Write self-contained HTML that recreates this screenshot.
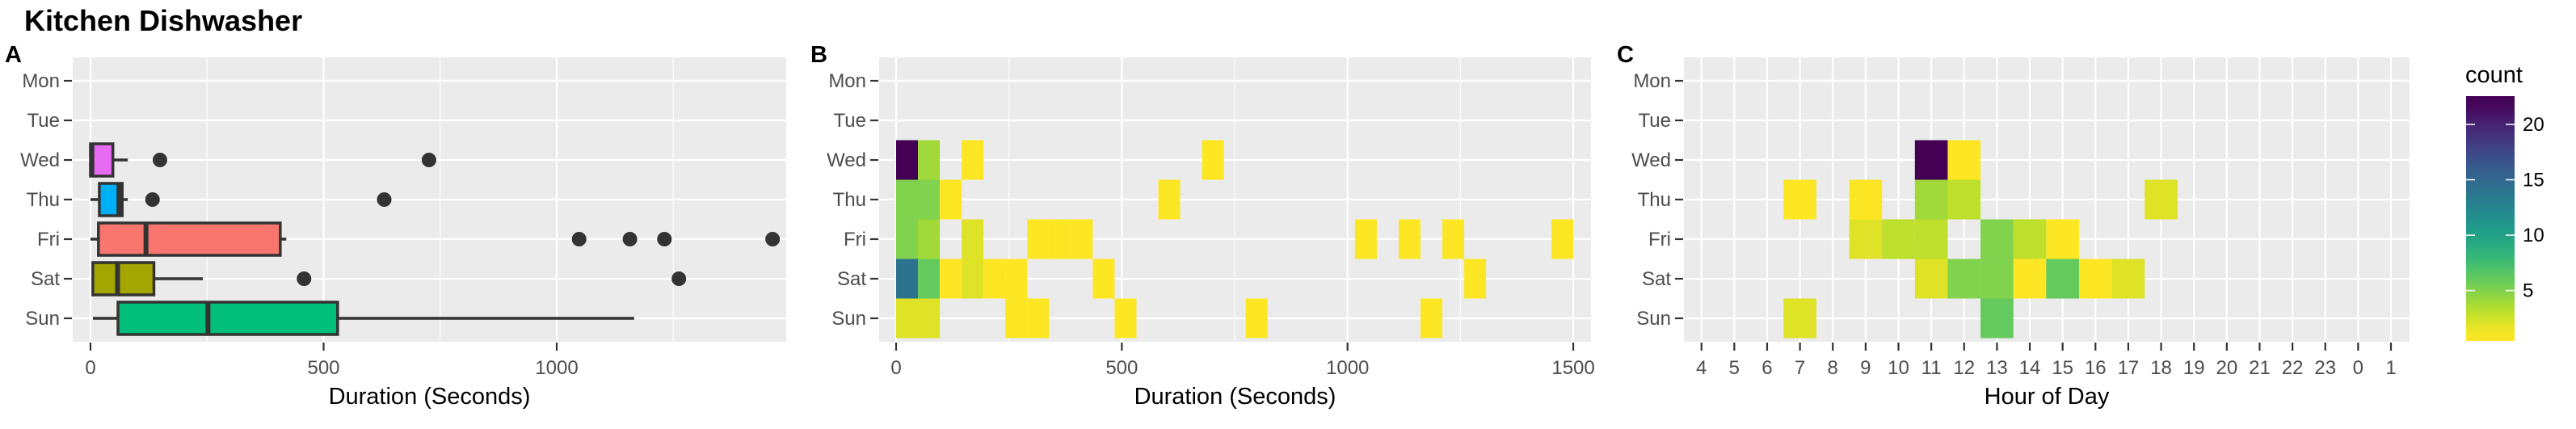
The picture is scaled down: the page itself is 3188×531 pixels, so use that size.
<!DOCTYPE html>
<html><head><meta charset="utf-8"><style>
html,body{margin:0;padding:0;background:#fff;}
svg{display:block;font-family:"Liberation Sans",sans-serif;}
</style></head><body>
<svg id="chart" width="3188" height="531" viewBox="0 0 3188 531" xmlns="http://www.w3.org/2000/svg">
<text x="30" y="38" font-size="36" font-weight="bold" fill="#000">Kitchen Dishwasher</text>
<g id="root"></g>
</svg>
<script>
// ---- data ----
const days = ["Mon","Tue","Wed","Thu","Fri","Sat","Sun"];
// Panel A boxplots: [day, lowerWhisker, q1, median, q3, upperWhisker]
const boxDays = ["Wed","Thu","Fri","Sat","Sun"];
const boxLoW = [0, 0, 0, 4, 5];
const boxQ1 = [0, 19, 17, 5, 59];
const boxMed = [3, 61, 119, 58, 252];
const boxQ3 = [48, 68, 407, 136, 530];
const boxHiW = [80, 80, 420, 241, 1166];
const boxFill = ["#E76BF3","#00B0F6","#F8766D","#A3A500","#00BF7D"];
const outDays = ["Wed","Wed","Thu","Thu","Fri","Fri","Fri","Fri","Sat","Sat"];
const outVals = [149, 726, 133, 630, 1048, 1157, 1231, 1463, 458, 1262];
const durTicks = [0, 500, 1000];
const durTicksB = [0, 500, 1000, 1500];
// Panel B heatmap: bin index (binwidth ~48.4 s), day, count
const binWidth = 48.4;
const bDays = ["Wed","Wed","Wed","Wed","Thu","Thu","Thu","Thu","Fri","Fri","Fri","Fri","Fri","Fri","Fri","Fri","Fri","Fri","Sat","Sat","Sat","Sat","Sat","Sat","Sat","Sat","Sun","Sun","Sun","Sun","Sun","Sun","Sun"];
const bBins = [0,1,3,14, 0,1,2,12, 0,1,3,6,7,8,21,23,25,30, 0,1,2,3,4,5,9,26, 0,1,5,6,10,16,24];
const bCounts = [22,4,1,1, 5,5,1,1, 5,4,2,1,1,1,1,1,1,1, 14,6,1,2,1,1,1,1, 2,2,1,1,1,1,1];
// Panel C heatmap: hour of day, day, count
const hours = ["4","5","6","7","8","9","10","11","12","13","14","15","16","17","18","19","20","21","22","23","0","1"];
const cDays = ["Wed","Wed","Thu","Thu","Thu","Thu","Thu","Fri","Fri","Fri","Fri","Fri","Fri","Sat","Sat","Sat","Sat","Sat","Sat","Sat","Sun","Sun"];
const cHours = ["11","12","7","9","11","12","18","9","10","11","13","14","15","11","12","13","14","15","16","17","7","13"];
const cCounts = [22,1,1,1,4,3,2,2,3,3,5,3,1,2,5,5,1,6,1,2,2,6];
const legendTicks = [5,10,15,20];
const countMin = 1, countMax = 22;

// ---- helpers ----
const NS="http://www.w3.org/2000/svg";
const root=document.getElementById('root');
function el(tag, attrs, parent){const e=document.createElementNS(NS,tag);for(const k in attrs)e.setAttribute(k,attrs[k]);(parent||root).appendChild(e);return e;}
const vir=["#440154","#482878","#3E4A89","#31688E","#26828E","#1F9E89","#35B779","#6DCD59","#B4DE2C","#FDE725"];
function hex(h){return [parseInt(h.substr(1,2),16),parseInt(h.substr(3,2),16),parseInt(h.substr(5,2),16)];}
function viridis(t){t=Math.max(0,Math.min(1,t));const p=t*9,i=Math.min(8,Math.floor(p)),f=p-i;const a=hex(vir[i]),b=hex(vir[i+1]);return "rgb("+a.map((v,k)=>Math.round(v+(b[k]-v)*f)).join(",")+")";}
function countColor(c){return viridis((countMax-c)/(countMax-countMin));}
const rowTop=71,rowBot=423,row0=100,rowStep=49;
function yDay(d){return row0+days.indexOf(d)*rowStep;}

function panelFrame(left,right,letter,letterX,xlabel){
  const g=el('g',{});
  
  
  const bg=el('rect',{x:left,y:rowTop,width:right-left,height:rowBot-rowTop,fill:'#EBEBEB'},g);
  
  
  const t=el('text',{x:letterX,y:77,'font-size':29,'font-weight':'bold',fill:'#000'},g);t.textContent=letter;
  
  
  const xt=el('text',{x:(left+right)/2,y:500,'font-size':29,'text-anchor':'middle',fill:'#000'},g);xt.textContent=xlabel;
  
  
  return g;
}
function dayAxis(g,left){
  days.forEach(d=>{
    const y=yDay(d);
    el('line',{x1:left,x2:left+0,y1:y,y2:y},g);
    const gl=el('line',{x1:left,x2:g._right,y1:y,y2:y,stroke:'#fff','stroke-width':2.2},g);
    
    
    el('line',{x1:left-11,x2:left-1,y1:y,y2:y,stroke:'#333','stroke-width':2.2},g);
    const t=el('text',{x:left-16,y:y+8,'font-size':24,'text-anchor':'end',fill:'#4D4D4D'},g);t.textContent=d;
    
    
  });
}
function contAxis(g,ticks,xs,minors){
  minors.forEach(v=>{el('line',{x1:xs(v),x2:xs(v),y1:rowTop,y2:rowBot,stroke:'#fff','stroke-width':1.1},g);});
  ticks.forEach(v=>{
    const x=xs(v);
    el('line',{x1:x,x2:x,y1:rowTop,y2:rowBot,stroke:'#fff','stroke-width':2.2},g);
    el('line',{x1:x,x2:x,y1:rowBot+1,y2:rowBot+11,stroke:'#333','stroke-width':2.2},g);
    const t=el('text',{x:x,y:463,'font-size':24,'text-anchor':'middle',fill:'#4D4D4D'},g);t.textContent=v;
    
    
  });
}

// ---- Panel A ----
(function(){
  const L=90,R=973;const xs=v=>112+v*0.577;
  const g=panelFrame(L,R,"A",6,"Duration (Seconds)");g._right=R;
  contAxis(g,durTicks,xs,[250,750,1250]);
  dayAxis(g,L);
  const hh=20;
  boxDays.forEach((d,i)=>{
    const y=yDay(d);
    const bg=el('g',{},g);
    
    
    el('line',{x1:xs(boxLoW[i]),x2:xs(boxQ1[i]),y1:y,y2:y,stroke:'#333','stroke-width':3.5},bg);
    el('line',{x1:xs(boxQ3[i]),x2:xs(boxHiW[i]),y1:y,y2:y,stroke:'#333','stroke-width':3.5},bg);
    el('rect',{x:xs(boxQ1[i]),y:y-hh,width:Math.max(1,xs(boxQ3[i])-xs(boxQ1[i])),height:2*hh,fill:boxFill[i],stroke:'#333','stroke-width':3.5},bg);
    el('line',{x1:xs(boxMed[i]),x2:xs(boxMed[i]),y1:y-hh,y2:y+hh,stroke:'#333','stroke-width':6},bg);
  });
  outVals.forEach((v,i)=>{
    const c=el('circle',{cx:xs(v),cy:yDay(outDays[i]),r:9,fill:'#333'},g);
    
    
  });
})();

// ---- Panel B ----
(function(){
  const L=1088,R=1969;const xs=v=>1109+v*0.5587;
  const g=panelFrame(L,R,"B",1003,"Duration (Seconds)");g._right=R;
  contAxis(g,durTicksB,xs,[250,750,1250]);
  dayAxis(g,L);
  bCounts.forEach((c,i)=>{
    const y=yDay(bDays[i]);
    const x0=xs(bBins[i]*binWidth),x1=xs((bBins[i]+1)*binWidth);
    const r=el('rect',{x:x0,y:y-rowStep/2,width:x1-x0,height:rowStep,fill:countColor(c)},g);
    
    
  });
})();

// ---- Panel C ----
(function(){
  const L=2084,R=2982;const step=(2959-2105.7)/21;const xs=h=>2105.7+hours.indexOf(h)*step;
  const g=panelFrame(L,R,"C",2001,"Hour of Day");g._right=R;
  hours.forEach(h=>{
    const x=xs(h);
    el('line',{x1:x,x2:x,y1:rowTop,y2:rowBot,stroke:'#fff','stroke-width':2.2},g);
    el('line',{x1:x,x2:x,y1:rowBot+1,y2:rowBot+11,stroke:'#333','stroke-width':2.2},g);
    const t=el('text',{x:x,y:463,'font-size':24,'text-anchor':'middle',fill:'#4D4D4D'},g);t.textContent=h;
    
    
  });
  dayAxis(g,L);
  cCounts.forEach((c,i)=>{
    const y=yDay(cDays[i]),x=xs(cHours[i]);
    const r=el('rect',{x:x-step/2,y:y-rowStep/2,width:step,height:rowStep,fill:countColor(c)},g);
    
    
  });
  // legend
  const lg=el('g',{},root);
  
  
  const lt=el('text',{x:3051,y:102,'font-size':29,fill:'#000'},lg);lt.textContent="count";
  
  
  const top=119,bot=422,lo=0.45,hi=22.55,bx=3052,bw=60;
  const defs=el('defs',{},lg);
  const gr=el('linearGradient',{id:'vg',x1:0,y1:1,x2:0,y2:0},defs);
  for(let k=0;k<=20;k++){const v=lo+(hi-lo)*k/20;el('stop',{offset:k/20,'stop-color':countColor(Math.max(countMin,Math.min(countMax,v)))},gr);}
  const bar=el('rect',{x:bx,y:top,width:bw,height:bot-top,fill:'url(#vg)'},lg);
  
  
  const ys=v=>bot-(v-lo)/(hi-lo)*(bot-top);
  legendTicks.forEach(v=>{
    const y=ys(v);
    el('line',{x1:bx,x2:bx+11,y1:y,y2:y,stroke:'#fff','stroke-width':1.5},lg);
    el('line',{x1:bx+bw-11,x2:bx+bw,y1:y,y2:y,stroke:'#fff','stroke-width':1.5},lg);
    const t=el('text',{x:bx+bw+10,y:y+8,'font-size':24,fill:'#000'},lg);t.textContent=v;
    
    
  });
})();
</script>
</body></html>
